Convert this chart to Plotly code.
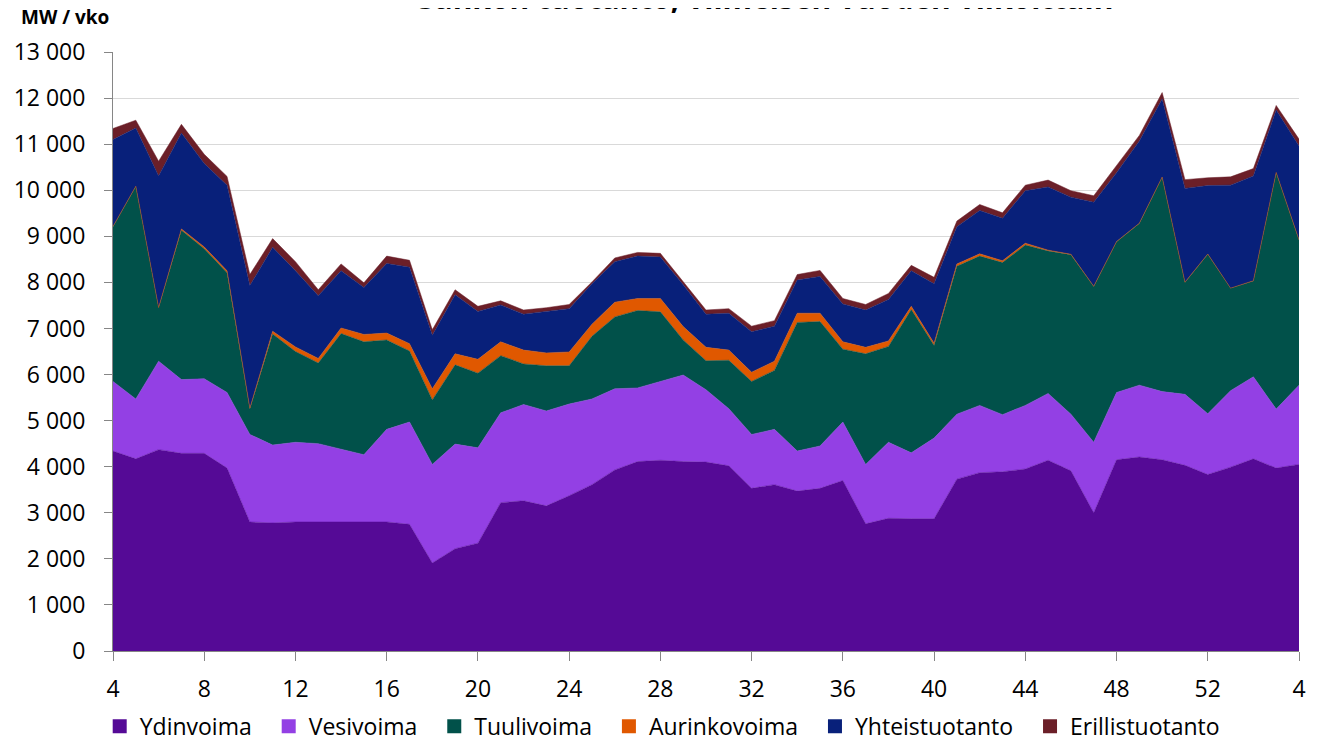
import plotly.graph_objects as go

# ==============================
# DATA (MW / week)
# ==============================
weeks = list(range(4, 53)) + [1, 2, 3, 4]

ydinvoima = [4340, 4170, 4370, 4290, 4290, 3970, 2800, 2780, 2800, 2800,
             2800, 2800, 2800, 2750, 1910, 2220, 2340, 3220, 3260, 3150,
             3370, 3610, 3930, 4110, 4140, 4110, 4100, 4020, 3530, 3610,
             3470, 3530, 3700, 2760, 2880, 2870, 2870, 3730, 3870, 3890,
             3950, 4140, 3910, 3000, 4150, 4210, 4150, 4030, 3830, 3990,
             4170, 3970, 4050]

vesivoima = [1510, 1300, 1920, 1600, 1620, 1640, 1900, 1690, 1730, 1700,
             1580, 1460, 2010, 2220, 2140, 2270, 2070, 1950, 2090, 2060,
             1990, 1860, 1760, 1600, 1710, 1880, 1570, 1240, 1170, 1200,
             870, 920, 1270, 1290, 1650, 1430, 1750, 1410, 1460, 1240,
             1380, 1450, 1230, 1530, 1460, 1560, 1480, 1540, 1320, 1660,
             1780, 1280, 1720]

tuulivoima = [3360, 4610, 1160, 3240, 2820, 2600, 550, 2410, 1970, 1750,
              2510, 2450, 1940, 1540, 1400, 1720, 1620, 1240, 880, 980,
              830, 1360, 1560, 1680, 1510, 760, 630, 1050, 1150, 1280,
              2790, 2700, 1580, 2400, 2080, 3110, 2010, 3210, 3240, 3300,
              3480, 3090, 3460, 3380, 3270, 3510, 4650, 2430, 3460, 2220,
              2080, 5130, 3150]

aurinkovoima = [5, 5, 5, 30, 40, 40, 20, 60, 100, 100,
                120, 160, 150, 160, 240, 240, 300, 300, 300, 280,
                300, 260, 320, 260, 290, 290, 290, 220, 200, 200,
                200, 180, 160, 140, 120, 70, 50, 50, 50, 40,
                40, 20, 10, 5, 5, 5, 5, 5, 5, 5,
                5, 5, 5]

yhteistuotanto = [1885, 1265, 2855, 2080, 1810, 1860, 2660, 1820, 1650, 1360,
                  1240, 1020, 1510, 1660, 1160, 1280, 1040, 800, 780, 900,
                  940, 880, 880, 920, 900, 910, 720, 800, 880, 760,
                  720, 800, 820, 810, 900, 770, 1290, 810, 940, 920,
                  1140, 1370, 1240, 1825, 1495, 1785, 1695, 2035, 1485, 2235,
                  2275, 1355, 2035]

erillistuotanto = [240, 170, 320, 190, 200, 190, 240, 190, 200, 130,
                   150, 100, 160, 150, 120, 110, 110, 90, 90, 80,
                   90, 40, 80, 80, 80, 60, 90, 100, 120, 120,
                   120, 130, 120, 120, 130, 120, 140, 120, 130, 120,
                   120, 150, 140, 140, 160, 120, 140, 190, 170, 180,
                   160, 100, 150]

series = [
    ('Ydinvoima', ydinvoima, '#550A96'),
    ('Vesivoima', vesivoima, '#9340E4'),
    ('Tuulivoima', tuulivoima, '#01514A'),
    ('Aurinkovoima', aurinkovoima, '#E05800'),
    ('Yhteistuotanto', yhteistuotanto, '#08207A'),
    ('Erillistuotanto', erillistuotanto, '#6B1F28'),
]

FONT = 'Open Sans'
x_idx = list(range(len(weeks)))

# ==============================
# DRAW STACKED AREA
# ==============================
fig = go.Figure()
for name, values, color in series:
    fig.add_trace(go.Scatter(x=x_idx, y=values, name=name,
                             mode='lines', stackgroup='prod',
                             line=dict(width=0.5, color=color),
                             fillcolor=color, showlegend=False))

# square legend keys like the original (nbsp padding widens the gaps)
for name, values, color in series:
    fig.add_trace(go.Scatter(x=[None], y=[None], name=name + '\u00a0\u00a0',
                             mode='markers',
                             marker=dict(symbol='square', size=14, color=color)))

tick_pos = x_idx[::4]
tick_txt = [str(weeks[i]) for i in tick_pos]

# page body adds an 8px offset, so the figure is sized 8px smaller
fig.update_layout(
    width=1310, height=736,
    margin=dict(l=105, r=19, t=44, b=93),
    paper_bgcolor='white', plot_bgcolor='white',
    font=dict(family=FONT, size=23, color='black'),
    separators=', ',
    showlegend=True,
    legend=dict(orientation='h', xref='container', x=0.070, xanchor='left',
                yref='container', y=0.024, yanchor='middle',
                font=dict(size=23), traceorder='normal',
                itemwidth=30, tracegroupgap=0),
    xaxis=dict(range=[0, len(weeks) - 1], tickvals=tick_pos, ticktext=tick_txt,
               showgrid=False, zeroline=False, showline=True,
               linecolor='#868686', linewidth=1, ticks='outside',
               ticklen=9, tickcolor='#868686', ticklabelstandoff=8,
               automargin=False),
    yaxis=dict(range=[0, 13000], dtick=1000, tickformat=',d',
               showgrid=True, gridcolor='#D9D9D9', gridwidth=1,
               zeroline=False, showline=True, linecolor='#868686', linewidth=1,
               ticks='outside', ticklen=8, tickcolor='#868686',
               ticklabelstandoff=14, automargin=False),
)

fig.add_annotation(text='<b>MW / vko</b>', xref='paper', yref='paper',
                   x=-0.079, y=1.058, xanchor='left', yanchor='middle',
                   showarrow=False, font=dict(size=19))
fig.add_annotation(text='<b>Sähkön tuotanto, viimeisen vuoden viikoittain</b>',
                   xref='paper', yref='paper', x=0.550, y=1.053,
                   xanchor='center', yanchor='bottom', showarrow=False,
                   font=dict(size=30))

fig.write_html("out.html")
